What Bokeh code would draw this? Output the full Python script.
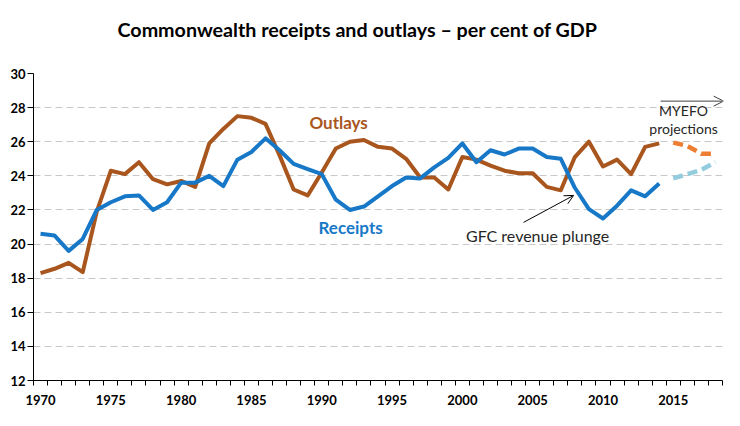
from bokeh.plotting import figure
from bokeh.models import FixedTicker, Label, Arrow, OpenHead, ColumnDataSource, Title
from bokeh.embed import file_html
from bokeh.resources import INLINE

years = list(range(1970, 2015))
receipts = [20.6, 20.5, 19.6, 20.3, 22.0, 22.45, 22.8, 22.85, 22.0, 22.45,
            23.6, 23.6, 24.0, 23.4, 24.95, 25.4, 26.2, 25.5, 24.7, 24.4,
            24.1, 22.6, 22.0, 22.2, 22.8, 23.4, 23.9, 23.85, 24.5, 25.05,
            25.9, 24.8, 25.5, 25.25, 25.6, 25.6, 25.1, 25.0, 23.3, 22.05,
            21.5, 22.25, 23.15, 22.8, 23.55]
outlays = [18.3, 18.55, 18.9, 18.35, 21.9, 24.3, 24.1, 24.8, 23.8, 23.5,
           23.7, 23.35, 25.9, 26.75, 27.5, 27.4, 27.05, 25.2, 23.2, 22.85,
           24.2, 25.6, 26.0, 26.1, 25.7, 25.6, 25.0, 23.9, 23.9, 23.2,
           25.1, 24.95, 24.6, 24.3, 24.15, 24.15, 23.35, 23.15, 25.1, 26.0,
           24.55, 24.95, 24.1, 25.7, 25.9]
proj_years = [2015, 2016, 2017, 2018]
proj_receipts = [23.85, 24.1, 24.35, 24.8]
proj_outlays = [25.95, 25.75, 25.3, 25.3]

x_labels = [1970, 1975, 1980, 1985, 1990, 1995, 2000, 2005, 2010, 2015]
y_ticks = [12, 14, 16, 18, 20, 22, 24, 26, 28, 30]

BROWN = "#A9561E"
BLUE = "#1878C8"
ORANGE = "#ED7D31"
LBLUE = "#93CDDD"
FONT = "Lato"

hist = ColumnDataSource(dict(year=years, receipts=receipts, outlays=outlays))
proj = ColumnDataSource(dict(year=proj_years, receipts=proj_receipts, outlays=proj_outlays))

p = figure(width=740, height=426, x_range=(1969.5, 2018.5), y_range=(12, 30),
           output_backend="svg", toolbar_location=None,
           min_border_left=33, min_border_right=18, min_border_top=73, min_border_bottom=46)
p.outline_line_color = None
p.background_fill_color = "white"
p.border_fill_color = "white"

p.title.text = "Commonwealth receipts and outlays \u2013 per cent of GDP"
p.title.align = "left"
p.title.text_font = FONT
p.title.text_font_style = "bold"
p.title.text_font_size = "19.7px"
p.title.text_color = "black"
p.title.standoff = 0
p.title.offset = 84

# spacer between the title and the plot frame
p.add_layout(Title(text=" ", text_font_size="10px", standoff=20), "above")

p.xgrid.grid_line_color = None
p.ygrid.ticker = FixedTicker(ticks=y_ticks[1:])
p.ygrid.grid_line_color = "#C8C8C8"
p.ygrid.grid_line_dash = "7 4"
p.ygrid.grid_line_width = 1

p.xaxis.ticker = FixedTicker(ticks=x_labels, minor_ticks=[y + 0.5 for y in range(1969, 2019)])
p.xaxis.major_tick_line_color = None
p.xaxis.major_tick_out = 6
p.xaxis.major_tick_in = 0
p.xaxis.minor_tick_line_color = "black"
p.xaxis.minor_tick_out = 5
p.xaxis.minor_tick_in = 0
p.xaxis.major_label_standoff = 8

p.yaxis.ticker = FixedTicker(ticks=y_ticks)
p.yaxis.major_tick_out = 6
p.yaxis.major_tick_in = 0
p.yaxis.minor_tick_line_color = None
p.yaxis.major_label_standoff = 2

for ax in (p.xaxis, p.yaxis):
    ax.axis_line_color = "black"
    ax.axis_line_width = 1
    ax.major_label_text_font = FONT
    ax.major_label_text_font_style = "bold"
    ax.major_label_text_font_size = "13px"
    ax.major_label_text_color = "black"

p.line("year", "outlays", source=hist, line_color=BROWN, line_width=4, line_join="round")
p.line("year", "receipts", source=hist, line_color=BLUE, line_width=4, line_join="round")
p.line("year", "outlays", source=proj, line_color=ORANGE, line_width=4.5, line_dash="10 5")
p.line("year", "receipts", source=proj, line_color=LBLUE, line_width=4.5, line_dash="10 5")

p.add_layout(Label(x=1991.2, y=27.13, text="Outlays", text_font=FONT, text_font_style="bold",
                   text_font_size="17px", text_align="center", text_baseline="middle", text_color=BROWN))
p.add_layout(Label(x=1992.05, y=20.97, text="Receipts", text_font=FONT, text_font_style="bold",
                   text_font_size="17px", text_align="center", text_baseline="middle", text_color=BLUE))
p.add_layout(Label(x=2005.35, y=20.5, text="GFC revenue plunge", text_font=FONT,
                   text_font_size="16px", text_align="center", text_baseline="middle", text_color="#262626"))
p.add_layout(Label(x=2015.73, y=27.83, text="MYEFO", text_font=FONT,
                   text_font_size="14px", text_align="center", text_baseline="middle", text_color="#262626"))
p.add_layout(Label(x=2015.73, y=26.78, text="projections", text_font=FONT,
                   text_font_size="14px", text_align="center", text_baseline="middle", text_color="#262626"))

p.add_layout(Arrow(x_start=2004.35, y_start=21.27, x_end=2007.91, y_end=22.85,
                   line_color="black", line_width=1,
                   end=OpenHead(size=9, line_color="black", line_width=1)))
p.add_layout(Arrow(x_start=2014.1, y_start=28.38, x_end=2018.58, y_end=28.38,
                   line_color="#404040", line_width=1,
                   end=OpenHead(size=10, line_color="#404040", line_width=1)))

open("out.html", "w").write(file_html(p, INLINE))
